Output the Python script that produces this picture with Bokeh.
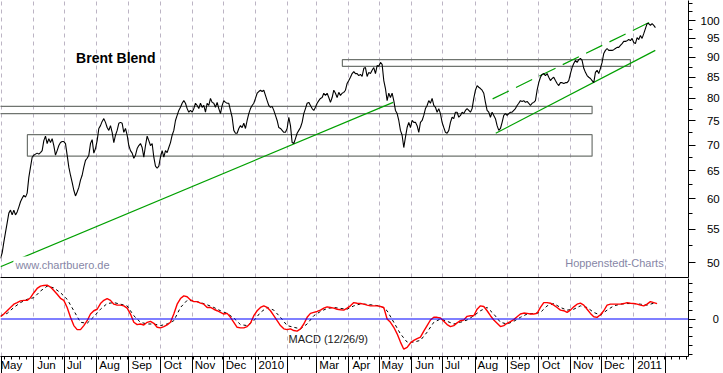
import numpy as np
import pandas as pd
from bokeh.plotting import figure
from bokeh.models import FixedTicker, LinearAxis, Range1d, Label, Span, Grid, ColumnDataSource
from bokeh.layouts import column
from bokeh.embed import file_html
from bokeh.resources import INLINE

# ---------------- data ----------------
series_start = pd.Timestamp("2009-04-30 01:00")
price_step_hours = 38.6      # spacing of the price readings
macd_step_hours = 77.2       # spacing of the MACD readings
signal_step_hours = 154.4    # spacing of the signal readings

brent = [
    50.6,
    51.4, 53.0, 54.5, 56.0, 57.6, 58.1, 57.3, 58.1, 57.3, 57.8,
    58.6, 59.5, 60.1, 60.6, 60.3, 61.0, 63.8, 65.7, 67.6, 68.0,
    68.2, 68.4, 68.2, 68.5, 68.9, 70.9, 71.8, 70.3, 71.3, 70.5,
    71.3, 69.9, 68.0, 68.9, 69.9, 70.5, 70.7, 70.7, 70.3, 68.0,
    65.7, 64.2, 62.9, 61.5, 60.5, 61.2, 62.0, 63.3, 64.2, 65.7,
    67.0, 67.4, 68.0, 70.3, 71.1, 68.4, 69.3, 70.9, 73.4, 74.0,
    74.9, 75.5, 74.7, 73.6, 73.0, 74.0, 72.6, 70.5, 72.0, 73.0,
    74.5, 74.7, 74.5, 72.6, 73.4, 72.0, 69.9, 68.9, 68.4, 67.4,
    68.0, 69.3, 69.9, 70.3, 69.5, 67.6, 69.9, 71.8, 70.9, 69.9,
    70.3, 67.6, 65.9, 65.5, 65.9, 67.6, 68.9, 67.6, 68.9, 68.5,
    69.5, 70.5, 72.0, 73.0, 75.1, 76.2, 77.3, 78.0, 78.9, 79.5,
    78.9, 77.7, 76.9, 77.3, 76.9, 77.7, 78.9, 78.4, 77.7, 78.9,
    78.0, 78.4, 76.9, 78.9, 78.4, 80.0, 79.1, 78.9, 78.0, 79.1,
    77.7, 76.6, 78.4, 79.5, 79.1, 78.9, 78.9, 77.3, 75.8, 73.0,
    72.4, 72.4, 73.4, 74.0, 73.6, 74.5, 73.4, 75.1, 76.6, 77.7,
    78.4, 78.9, 80.0, 81.2, 81.6, 81.9, 81.6, 81.9, 80.7, 79.5,
    78.4, 78.0, 78.2, 77.3, 76.2, 75.1, 73.6, 73.4, 73.0, 72.6,
    72.6, 73.4, 75.8, 74.0, 70.5, 70.3, 71.3, 72.4, 73.0, 73.6,
    74.7, 76.6, 77.7, 78.9, 79.1, 78.4, 77.7, 77.3, 78.0, 78.9,
    79.5, 80.0, 80.2, 81.2, 80.7, 81.2, 80.2, 79.1, 80.2, 81.9,
    81.2, 80.2, 81.4, 80.7, 81.2, 81.4, 81.9, 83.5, 84.2, 85.0,
    85.9, 86.4, 85.9, 85.9, 85.4, 85.7, 85.2, 87.2, 87.4, 85.2,
    86.2, 85.9, 86.7, 87.4, 85.9, 87.9, 87.7, 88.7, 88.2, 84.2,
    82.3, 79.5, 81.2, 80.2, 81.2, 79.5, 77.3, 76.6, 75.1, 73.0,
    72.0, 69.5, 71.6, 73.6, 74.7, 73.6, 75.1, 74.7, 74.7, 74.0,
    72.6, 74.7, 75.1, 76.2, 77.7, 78.4, 79.5, 78.9, 80.0, 78.4,
    78.0, 76.9, 77.7, 76.6, 74.7, 73.6, 72.6, 72.4, 73.0, 74.7,
    75.8, 75.5, 76.9, 76.9, 75.8, 76.2, 76.9, 76.6, 77.3, 77.7,
    77.3, 76.9, 77.7, 80.0, 81.9, 83.0, 82.6, 82.3, 81.9, 81.2,
    79.1, 77.3, 76.9, 75.8, 76.9, 76.2, 75.5, 74.0, 73.0, 73.4,
    74.7, 76.2, 76.6, 76.2, 76.6, 76.9, 76.9, 77.3, 77.7, 78.4,
    78.9, 79.5, 79.3, 79.5, 79.1, 79.3, 78.9, 78.4, 78.9, 79.1,
    79.5, 81.9, 83.7, 85.0, 85.7, 85.9, 85.4, 85.9, 85.0, 84.2,
    84.7, 85.0, 84.2, 83.5, 83.0, 83.7, 83.7, 83.5, 83.7, 83.7,
    84.2, 85.9, 87.4, 88.4, 89.2, 88.7, 89.4, 89.7, 89.2, 87.2,
    86.2, 85.4, 85.0, 84.7, 84.2, 83.7, 86.2, 86.7, 85.9, 87.2,
    88.7, 91.0, 91.8, 92.3, 91.8, 91.8, 91.8, 92.0, 92.3, 92.6,
    92.6, 93.1, 93.6, 94.2, 94.2, 94.4, 94.7, 94.4, 95.0, 93.9,
    93.6, 95.2, 94.7, 95.8, 95.0, 96.3, 97.7, 99.1, 99.1, 98.6,
    99.1, 98.6, 98.0,
]

macd = [
    0.26, 0.56, 0.93, 1.30, 1.67, 1.85, 2.04, 2.10, 2.10, 2.40,
    2.96, 3.44, 3.70, 3.78, 3.81, 3.60, 3.20, 2.78, 2.33, 2.10,
    1.30, 0.19, -0.74, -1.19, -1.19, -0.74, -0.19, 0.56, 0.93, 1.10,
    1.74, 2.10, 2.30, 2.10, 1.67, 1.56, 1.56, 1.48, 1.22, 0.56,
    -0.37, -0.63, -0.56, -0.67, -0.37, -0.26, -0.48, -0.93, -1.00, -0.85,
    -0.67, -0.37, 0.56, 1.67, 2.30, 2.60, 2.50, 2.15, 1.96, 1.96,
    1.78, 1.67, 1.30, 1.30, 1.10, 0.93, 0.74, 0.56, 0.63, 0.19,
    -0.37, -0.93, -1.00, -1.00, -0.85, -0.48, 0.37, 0.93, 1.30, 1.48,
    1.30, 0.93, 0.37, -0.19, -0.74, -1.11, -1.19, -1.11, -1.30, -1.37,
    -1.11, -0.56, 0.19, 0.63, 0.74, 0.85, 1.00, 1.22, 1.37, 1.30,
    1.22, 1.10, 1.04, 1.00, 1.22, 1.48, 1.85, 1.78, 1.75, 1.67,
    1.56, 1.48, 1.48, 1.48, 1.41, 1.30, 0.00, -0.37, -0.93, -1.67,
    -2.60, -3.40, -3.20, -2.70, -2.40, -2.20, -2.04, -1.37, -0.74, -0.11,
    0.19, 0.19, 0.11, -0.26, -0.63, -0.85, -0.74, -0.44, -0.19, -0.11,
    0.30, 0.37, 0.37, 1.11, 1.48, 1.41, 0.93, 0.37, -0.11, -0.48,
    -0.85, -0.74, -0.48, -0.30, -0.07, 0.26, 0.56, 0.67, 0.63, 0.56,
    0.56, 0.63, 1.30, 1.85, 1.85, 1.78, 1.56, 1.30, 1.00, 0.93,
    0.74, 1.00, 1.37, 1.67, 1.78, 1.56, 1.10, 0.63, 0.26, 0.19,
    0.48, 0.93, 1.56, 1.67, 1.67, 1.67, 1.67, 1.74, 1.85, 1.78,
    1.74, 1.67, 1.56, 1.48, 1.67, 1.96, 1.85, 1.74,
]

signal = [
    0.37, 0.63, 1.30, 1.85, 2.22, 2.40, 3.15, 3.70, 3.50, 2.96,
    2.22, 0.93, -0.37, -0.48, 0.26, 1.10, 1.74, 1.85, 1.67, 1.48,
    0.37, -0.37, -0.56, -0.56, -0.74, -0.56, -0.19, 1.30, 2.10, 2.04,
    1.85, 1.60, 1.30, 0.93, 0.63, 0.11, -0.63, -0.74, -0.19, 0.74,
    1.30, 1.00, 0.19, -0.74, -0.93, -1.11, -0.56, 0.37, 0.85, 1.19,
    1.30, 1.19, 1.10, 1.48, 1.70, 1.65, 1.55, 1.48, 0.93, -0.37,
    -1.67, -2.60, -2.60, -2.40, -1.48, -0.37, 0.00, -0.26, -0.56, -0.37,
    -0.11, 0.37, 0.93, 1.30, 0.56, -0.37, -0.56, -0.26, 0.19, 0.56,
    0.63, 0.74, 1.48, 1.74, 1.30, 1.00, 1.10, 1.48, 1.30, 0.74,
    0.44, 1.00, 1.48, 1.67, 1.74, 1.74, 1.67, 1.56, 1.78,
]

month_starts = pd.date_range("2009-05-01", "2011-02-01", freq="MS")
month_labels = ["May", "Jun", "Jul", "Aug", "Sep", "Oct", "Nov", "Dec",
                "2010", "", "Mar", "Apr", "May", "Jun", "Jul", "Aug",
                "Sep", "Oct", "Nov", "Dec", "2011", ""]
week_ticks = pd.date_range("2009-04-27", "2011-02-28", freq="W-MON")

price_ticks = [50, 55, 60, 65, 70, 75, 80, 85, 90, 95, 100]
price_tick_labels = ["\u200750", "\u200755", "\u200760", "\u200765", "\u200770",
                     "\u200775", "\u200780", "\u200785", "\u200790", "\u200795", "100"]
price_minor = [47.5, 52.5, 57.5, 62.5, 67.5, 72.5, 77.5, 82.5, 87.5, 92.5, 97.5, 102.5, 105]
macd_ticks = [0]
macd_tick_labels = ["\u2007\u20070"]
macd_minor = [-4, -3, -2, -1, 1, 2, 3, 4]

# support / resistance boxes
box_left = ["2009-04-25", "2009-05-26", "2010-03-26"]
box_right = ["2010-11-22", "2010-11-22", "2010-12-29"]
box_bottom = [76.6, 67.8, 87.7]
box_top = [78.2, 72.1, 89.4]

# trend lines
trend_dates = ["2009-04-30", "2010-05-14"]
trend_prices = [49.4, 79.1]
chan_low_dates = ["2010-08-21", "2011-01-22"]
chan_low_prices = [72.4, 91.8]
chan_high_dates = ["2010-08-18", "2011-01-20"]
chan_high_prices = [79.9, 100.0]

# ---------------- helpers ----------------
EPOCH = pd.Timestamp("1970-01-01")


def to_ms(idx):
    return list((pd.DatetimeIndex(idx) - EPOCH) / pd.Timedelta(milliseconds=1))


FONT = "Liberation Sans"
AXIS_PX = 11.5
GRID_COLOR = "#bcb4c4"
TXT_GRAY = "#8686a6"

# advance widths (em) of Liberation Sans, used to left-align the month labels
# next to their tick (Bokeh centres axis labels on the tick); padding uses
# figure spaces (U+2007), which keep their width in the SVG text
EM = {"M": .833, "a": .556, "y": .5, "J": .5, "u": .556, "n": .556, "l": .222,
      "A": .667, "g": .556, "S": .667, "e": .556, "p": .556, "O": .778, "c": .5,
      "t": .278, "N": .722, "o": .556, "v": .5, "D": .722, "r": .333,
      "0": .556, "1": .556, "2": .556}
FIGSP_EM = .556


def left_aligned(text, offset_px=2.5):
    if not text:
        return ""
    w = sum(EM.get(ch, .556) for ch in text) * AXIS_PX
    n = int(round((w + 2 * offset_px) / (FIGSP_EM * AXIS_PX)))
    return "\u2007" * n + text


price_dates = series_start + pd.to_timedelta(np.arange(len(brent)) * price_step_hours, unit="h")
macd_dates = series_start + pd.to_timedelta(np.arange(len(macd)) * macd_step_hours, unit="h")
signal_dates = series_start + pd.to_timedelta(np.arange(len(signal)) * signal_step_hours, unit="h")

month_ms = to_ms(month_starts)
week_ms = to_ms(week_ticks)

xr = Range1d(start=series_start.to_pydatetime(),
             end=(series_start + pd.Timedelta(days=664)).to_pydatetime())

# ---------------- price panel ----------------
p1 = figure(width=723, height=278, x_range=xr, x_axis_type="datetime", y_axis_type="log",
            y_range=Range1d(47.9, 105.9), x_axis_location=None, y_axis_location="right",
            output_backend="svg", toolbar_location=None,
            min_border_left=0, min_border_right=35, min_border_top=0, min_border_bottom=1)
p1.outline_line_color = None
p1.grid.visible = False
p1.add_layout(Grid(dimension=0, ticker=FixedTicker(ticks=month_ms),
                   grid_line_color=GRID_COLOR, grid_line_dash="4 4"))

# separator line between the two panels
sep = LinearAxis(ticker=FixedTicker(ticks=month_ms), major_label_text_font_size="0px",
                 major_label_overrides={m: "" for m in month_ms},
                 major_tick_out=0, major_tick_in=0, minor_tick_out=0, minor_tick_in=0,
                 major_tick_line_color=None, minor_tick_line_color=None,
                 major_label_standoff=0, axis_line_color="black", axis_line_width=1.2)
p1.add_layout(sep, "below")

ya = p1.yaxis[0]
ya.ticker = FixedTicker(ticks=price_ticks, minor_ticks=price_minor)
ya.major_label_overrides = dict(zip(price_ticks, price_tick_labels))
ya.major_tick_out = 7
ya.major_tick_in = 0
ya.minor_tick_out = 4
ya.minor_tick_in = 0
ya.major_label_standoff = 5
ya.axis_line_color = "black"
ya.major_label_text_font = FONT
ya.major_label_text_font_size = "11.5px"
ya.major_label_text_color = "black"

boxes = ColumnDataSource(dict(left=pd.to_datetime(box_left), right=pd.to_datetime(box_right),
                              bottom=box_bottom, top=box_top))
p1.quad(left="left", right="right", bottom="bottom", top="top", source=boxes,
        fill_color=None, line_color="#6f746f", line_width=1.2)

p1.line(pd.to_datetime(trend_dates), trend_prices, line_color="#00a000", line_width=1.2)
p1.line(pd.to_datetime(chan_low_dates), chan_low_prices, line_color="#00a000", line_width=1.2)
p1.line(pd.to_datetime(chan_high_dates), chan_high_prices, line_color="#00a000",
        line_width=1.2, line_dash="18 8")

price_src = ColumnDataSource(dict(date=price_dates, price=brent))
p1.line("date", "price", source=price_src, line_color="black", line_width=1.1)

p1.add_layout(Label(x=pd.Timestamp("2009-07-12").to_pydatetime(), y=89.8, text="Brent Blend",
                    text_font=FONT, text_font_style="bold", text_font_size="14px",
                    text_color="black", text_baseline="middle"))
p1.add_layout(Label(x=pd.Timestamp("2009-05-12 12:00").to_pydatetime(), y=49.7,
                    text="www.chartbuero.de", text_font=FONT, text_font_size="11px",
                    text_color=TXT_GRAY, text_baseline="middle",
                    background_fill_color="white", padding=2))
p1.add_layout(Label(x=pd.Timestamp("2011-01-31").to_pydatetime(), y=49.9,
                    text="Hoppenstedt-Charts", text_font=FONT, text_font_size="11px",
                    text_color=TXT_GRAY, text_baseline="middle", text_align="right",
                    background_fill_color="white", padding=1))

# ---------------- MACD panel ----------------
p2 = figure(width=723, height=95, x_range=xr, x_axis_type="datetime",
            y_range=Range1d(-4.22, 4.56), y_axis_location="right",
            output_backend="svg", toolbar_location=None,
            min_border_left=0, min_border_right=35, min_border_top=0, min_border_bottom=0)
p2.outline_line_color = None
p2.grid.visible = False
p2.add_layout(Grid(dimension=0, ticker=FixedTicker(ticks=month_ms),
                   grid_line_color=GRID_COLOR, grid_line_dash="4 4"))

xa = p2.xaxis[0]
xa.ticker = FixedTicker(ticks=month_ms, minor_ticks=week_ms)
# the first label sits at the left edge and is kept inside the canvas by Bokeh
xa.major_label_overrides = {m: (t if k == 0 else left_aligned(t))
                            for k, (m, t) in enumerate(zip(month_ms, month_labels))}
xa.major_tick_out = 17
xa.major_tick_in = 0
xa.minor_tick_out = 3
xa.minor_tick_in = 0
xa.major_label_standoff = -15
xa.major_label_text_font = FONT
xa.major_label_text_font_size = f"{AXIS_PX}px"
xa.major_label_text_color = "black"
xa.axis_line_color = "black"

ya2 = p2.yaxis[0]
ya2.ticker = FixedTicker(ticks=macd_ticks, minor_ticks=macd_minor)
ya2.major_label_overrides = dict(zip(macd_ticks, macd_tick_labels))
ya2.major_tick_out = 7
ya2.major_tick_in = 0
ya2.minor_tick_out = 4
ya2.minor_tick_in = 0
ya2.major_label_standoff = 5
ya2.axis_line_color = "black"
ya2.major_label_text_font = FONT
ya2.major_label_text_font_size = "11px"
ya2.major_label_text_color = "black"

p2.add_layout(Span(location=0, dimension="width", line_color="#0000ff", line_width=1.2))

sig_src = ColumnDataSource(dict(date=signal_dates, value=signal))
p2.line("date", "value", source=sig_src, line_color="black", line_width=1, line_dash="3 3")
macd_src = ColumnDataSource(dict(date=macd_dates, value=macd))
p2.line("date", "value", source=macd_src, line_color="#ff0000", line_width=1.4)

p2.add_layout(Label(x=pd.Timestamp("2010-02-02").to_pydatetime(), y=-2.2, text="MACD (12/26/9)",
                    text_font=FONT, text_font_size="11px", text_color="#202020",
                    text_baseline="middle"))

layout = column(p1, p2, spacing=0)
open("out.html", "w").write(file_html(layout, INLINE))
